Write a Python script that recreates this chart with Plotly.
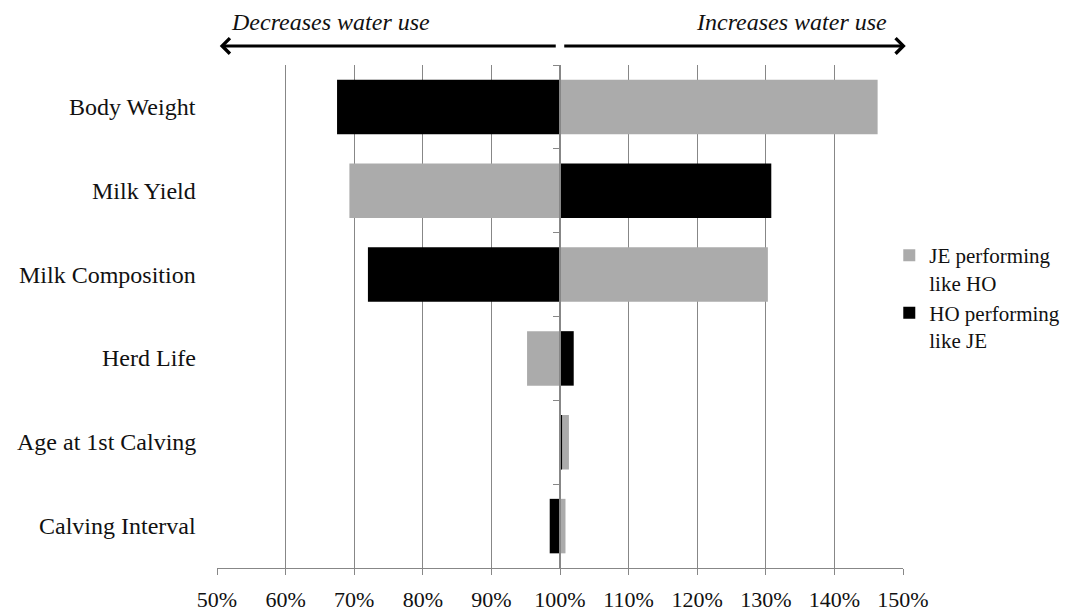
import plotly.graph_objects as go

categories = ["Body Weight", "Milk Yield", "Milk Composition", "Herd Life",
              "Age at 1st Calving", "Calving Interval"]
je_like_ho = [146.3, 69.3, 130.3, 95.2, 101.3, 100.8]   # % of baseline
ho_like_je = [67.5, 130.8, 72.0, 102.0, 100.3, 98.5]
baseline = 100
x_ticks = [50, 60, 70, 80, 90, 100, 110, 120, 130, 140, 150]
x_tick_labels = [f"{v}%" for v in x_ticks]

FONT = "Liberation Serif"
GRID = "#878787"
TXT = "#111111"

fig = go.Figure()
fig.add_trace(go.Bar(
    y=categories, x=[v - baseline for v in je_like_ho], base=baseline,
    orientation="h", name="JE performing<br>like HO", legendgroup="je",
    marker=dict(color="#ABABAB", line=dict(width=0)),
))
fig.add_trace(go.Bar(
    y=categories, x=[v - baseline for v in ho_like_je], base=baseline,
    orientation="h", name="HO performing<br>like JE", legendgroup="ho",
    marker=dict(color="#000000", line=dict(width=0)),
))

annotations = []
for c in categories:
    annotations.append(dict(
        x=0, xref="paper", y=c, yref="y", text=c, showarrow=False,
        xanchor="right", xshift=-19, font=dict(family=FONT, size=24, color=TXT),
    ))
# direction arrows
annotations.append(dict(x=50.4, y=1.038, xref="x", yref="paper", ax=99.6, ay=0,
                        axref="x", ayref="pixel", showarrow=True, arrowhead=4,
                        arrowsize=1, arrowwidth=3, arrowcolor="#000", text=""))
annotations.append(dict(x=150.4, y=1.038, xref="x", yref="paper", ax=100.4, ay=0,
                        axref="x", ayref="pixel", showarrow=True, arrowhead=4,
                        arrowsize=1, arrowwidth=3, arrowcolor="#000", text=""))
annotations.append(dict(x=66.5, y=1.085, xref="x", yref="paper", showarrow=False,
                        xanchor="center", yanchor="middle",
                        text="<i>Decreases water use</i>",
                        font=dict(family=FONT, size=24, color=TXT)))
annotations.append(dict(x=133.8, y=1.085, xref="x", yref="paper", showarrow=False,
                        xanchor="center", yanchor="middle",
                        text="<i>Increases water use</i>",
                        font=dict(family=FONT, size=24, color=TXT)))

fig.update_layout(
    width=1060, height=606,
    margin=dict(l=209, r=165, t=57, b=46, autoexpand=False),
    paper_bgcolor="white", plot_bgcolor="white",
    barmode="overlay", bargap=0.35,
    font=dict(family=FONT, size=22, color=TXT),
    showlegend=True,
    legend=dict(x=0.98, y=0.662, xanchor="left", yanchor="top",
                traceorder="normal", valign="top", itemwidth=30,
                font=dict(family=FONT, size=21, color=TXT),
                tracegroupgap=7, bgcolor="rgba(0,0,0,0)"),
    annotations=annotations,
    xaxis=dict(range=[50, 150], tickmode="array", tickvals=x_ticks,
               ticktext=x_tick_labels,
               showgrid=True, gridcolor=GRID, gridwidth=1, zeroline=False,
               showline=True, linecolor=GRID, linewidth=1,
               ticks="outside", ticklen=6, tickcolor=GRID,
               ticklabelstandoff=6,
               tickfont=dict(family=FONT, size=22, color=TXT)),
    yaxis=dict(categoryorder="array", categoryarray=categories,
               autorange="reversed", anchor="free", position=0.5,
               showline=True, linecolor=GRID, linewidth=1.5,
               ticks="outside", tickson="boundaries", ticklen=6, tickcolor=GRID,
               showticklabels=False, showgrid=False, zeroline=False),
)

fig.write_html("out.html")
